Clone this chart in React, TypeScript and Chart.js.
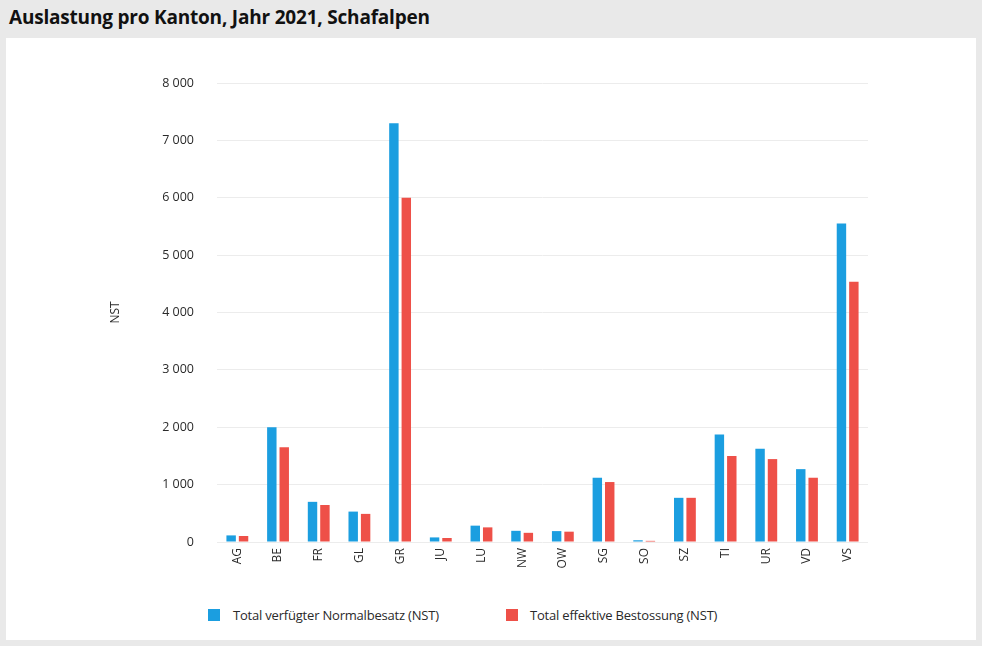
import React, { useEffect, useRef } from "react";
import { Chart, registerables } from "chart.js";

Chart.register(...registerables);

const kantone = ["AG", "BE", "FR", "GL", "GR", "JU", "LU", "NW", "OW", "SG", "SO", "SZ", "TI", "UR", "VD", "VS"];
const normalbesatz = [115, 2000, 700, 530, 7300, 80, 285, 195, 190, 1120, 30, 770, 1875, 1625, 1270, 5550];
const bestossung = [105, 1650, 645, 490, 6000, 70, 255, 160, 180, 1045, 20, 770, 1500, 1445, 1120, 4535];
const yTicks = [0, 1000, 2000, 3000, 4000, 5000, 6000, 7000, 8000];

const BLUE = "#1b9ee0";
const RED = "#ee5048";
const FONT = "'Open Sans', 'Noto Sans', sans-serif";

const seriesNames = ["Total verfügter Normalbesatz (NST)", "Total effektive Bestossung (NST)"];

function formatThousands(v: number): string {
  return String(v).replace(/\B(?=(\d{3})+(?!\d))/g, " ");
}

export default function App() {
  const canvasRef = useRef<HTMLCanvasElement | null>(null);

  useEffect(() => {
    if (!canvasRef.current) return;
    const chart = new Chart(canvasRef.current, {
      type: "bar",
      data: {
        labels: kantone,
        datasets: [
          {
            label: seriesNames[0],
            data: normalbesatz,
            backgroundColor: BLUE,
            borderWidth: 0,
            categoryPercentage: 0.61,
            barPercentage: 0.76,
          },
          {
            label: seriesNames[1],
            data: bestossung,
            backgroundColor: RED,
            borderWidth: 0,
            categoryPercentage: 0.61,
            barPercentage: 0.76,
          },
        ],
      },
      options: {
        animation: false,
        responsive: false,
        maintainAspectRatio: false,
        layout: { padding: { left: 0, right: 114, top: 43, bottom: 0 } },
        plugins: {
          legend: { display: false },
          tooltip: { enabled: false },
        },
        scales: {
          x: {
            grid: { display: false, drawTicks: false },
            border: { display: false },
            ticks: {
              minRotation: 90,
              maxRotation: 90,
              padding: 6,
              color: "#2a2a2a",
              font: { family: FONT, size: 12 },
              autoSkip: false,
            },
            afterFit: (scale: any) => {
              scale.height = 48;
            },
          },
          y: {
            min: 0,
            max: 8000,
            afterBuildTicks: (scale: any) => {
              scale.ticks = yTicks.map((v) => ({ value: v }));
            },
            grid: { color: "#ececec", lineWidth: 1, drawTicks: false },
            border: { display: false },
            ticks: {
              padding: 23,
              color: "#2a2a2a",
              font: { family: FONT, size: 12.5 },
              callback: (v: any) => formatThousands(Number(v)),
            },
            title: {
              display: true,
              text: "NST",
              color: "#2a2a2a",
              font: { family: FONT, size: 12 },
              padding: { top: 108, bottom: 0 },
            },
            afterFit: (scale: any) => {
              scale.width = 217;
            },
          },
        },
      },
    });
    return () => chart.destroy();
  }, []);

  return (
    <div
      style={{
        position: "fixed",
        left: 0,
        top: 0,
        width: 982,
        height: 646,
        background: "#e9e9e9",
        fontFamily: FONT,
        overflow: "hidden",
      }}
    >
      <div
        style={{
          position: "absolute",
          left: 9,
          top: 4,
          fontSize: 19,
          fontWeight: 700,
          color: "#111",
          letterSpacing: -0.2,
          whiteSpace: "nowrap",
        }}
      >
        Auslastung pro Kanton, Jahr 2021, Schafalpen
      </div>
      <div
        style={{
          position: "absolute",
          left: 6,
          top: 38,
          right: 6,
          bottom: 6,
          background: "#fff",
        }}
      />
      <canvas
        ref={canvasRef}
        width={982}
        height={550}
        style={{ position: "absolute", left: 0, top: 40, width: 982, height: 550 }}
      />
      <div
        style={{
          position: "absolute",
          left: 208,
          top: 606,
          display: "flex",
          alignItems: "center",
          fontSize: 13,
          color: "#2a2a2a",
          letterSpacing: -0.2,
          whiteSpace: "nowrap",
        }}
      >
        <span style={{ width: 12, height: 12, background: BLUE, display: "inline-block", marginRight: 13 }} />
        <span>{seriesNames[0]}</span>
      </div>
      <div
        style={{
          position: "absolute",
          left: 506,
          top: 606,
          display: "flex",
          alignItems: "center",
          fontSize: 13,
          color: "#2a2a2a",
          letterSpacing: -0.2,
          whiteSpace: "nowrap",
        }}
      >
        <span style={{ width: 12, height: 12, background: RED, display: "inline-block", marginRight: 12 }} />
        <span>{seriesNames[1]}</span>
      </div>
    </div>
  );
}
